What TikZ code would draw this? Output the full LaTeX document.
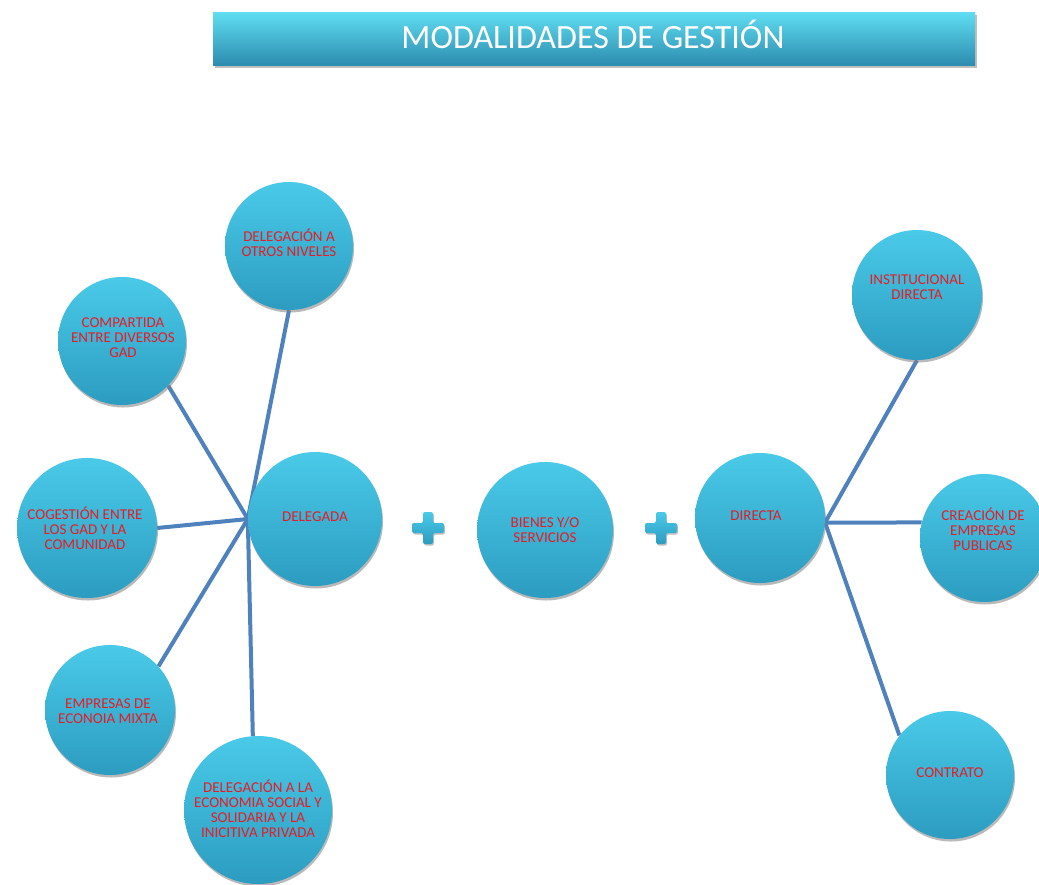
\documentclass[tikz,border=0pt]{standalone}
\usepackage{fontspec}
\setmainfont{Carlito}
\usetikzlibrary{shadows,backgrounds}
\definecolor{ballA}{RGB}{74,202,232}
\definecolor{ballB}{RGB}{58,187,220}
\definecolor{ballC}{RGB}{44,156,192}
\definecolor{barA}{RGB}{96,222,242}
\definecolor{barB}{RGB}{58,182,215}
\definecolor{barC}{RGB}{44,140,175}
\definecolor{lineblue}{RGB}{79,129,189}
\definecolor{txtred}{RGB}{232,28,36}
\tikzset{
  ball/.style={circle, inner sep=0pt, top color=ballA, middle color=ballB, bottom color=ballC,
    drop shadow={shadow xshift=1pt, shadow yshift=-2.5pt, opacity=0.55}},
  balltext/.style={text=txtred, font=\fontsize{15}{15}\selectfont, align=center, inner sep=0pt},
  link/.style={lineblue, line width=4pt},
  plusshape/.style={top color=ballA, middle color=ballB, bottom color=ballC, rounded corners=2pt,
    drop shadow={shadow xshift=1pt, shadow yshift=-1.5pt, opacity=0.5}},
}
\begin{document}
\begin{tikzpicture}[x=1pt,y=-1pt]
\useasboundingbox (0,0) rectangle (1039,884);
% title
\node[rectangle, minimum width=762pt, minimum height=53pt, inner sep=0pt,
  top color=barA, middle color=barB, bottom color=barC,
  drop shadow={shadow xshift=2pt, shadow yshift=-3pt, opacity=0.5}] (title) at (594,38.5) {};
\node[text=white, inner sep=0pt, font=\fontsize{34}{34}\selectfont] (title-t) at (593,34.5) {MODALIDADES DE GESTIÓN};

% circles
\node[ball, minimum size=128pt] (otros) at (289,246) {};
\node[ball, minimum size=128pt] (compartida) at (122,341) {};
\node[ball, minimum size=140pt] (cogestion) at (87,528) {};
\node[ball, minimum size=134pt] (delegada) at (315,519) {};
\node[ball, minimum size=130pt] (empresas) at (110,710) {};
\node[ball, minimum size=148pt] (social) at (258,810) {};
\node[ball, minimum size=136pt] (bienes) at (545,530) {};
\node[ball, minimum size=130pt] (directa) at (760,518) {};
\node[ball, minimum size=130pt] (institucional) at (917,295) {};
\node[ball, minimum size=128pt] (creacion) at (984,538) {};
\node[ball, minimum size=128pt] (contrato) at (950,775) {};

% texts
\node[balltext] (otros-t) at (289,243) {DELEGACIÓN A\\OTROS NIVELES};
\node[balltext] (compartida-t) at (123,338) {COMPARTIDA\\ENTRE DIVERSOS\\GAD};
\node[balltext] (cogestion-t) at (85,528) {COGESTIÓN ENTRE\\LOS GAD Y LA\\COMUNIDAD};
\node[balltext] (delegada-t) at (315,517) {DELEGADA};
\node[balltext] (empresas-t) at (108,711) {EMPRESAS DE\\ECONOIA MIXTA};
\node[balltext] (social-t) at (258,809) {DELEGACIÓN A LA\\ECONOMIA SOCIAL Y\\SOLIDARIA Y LA\\INICITIVA PRIVADA};
\node[balltext] (bienes-t) at (545,530) {BIENES Y/O\\SERVICIOS};
\node[balltext] (directa-t) at (756,516) {DIRECTA};
\node[balltext] (institucional-t) at (917,287) {INSTITUCIONAL\\DIRECTA};
\node[balltext] (creacion-t) at (983,529) {CREACIÓN DE\\EMPRESAS\\PUBLICAS};
\node[balltext] (contrato-t) at (950,773) {CONTRATO};

% plus signs
\path[plusshape] (423,512) -- (433,512) -- (433,523) -- (444,523) -- (444,533) -- (433,533)
  -- (433,544) -- (423,544) -- (423,533) -- (412,533) -- (412,523) -- (423,523) -- cycle;
\path[plusshape] (656,512) -- (666,512) -- (666,523) -- (677,523) -- (677,533) -- (666,533)
  -- (666,544) -- (656,544) -- (656,533) -- (645,533) -- (645,523) -- (656,523) -- cycle;

% connectors
\begin{scope}[on background layer]
\coordinate (lhub) at (delegada.west);
\coordinate (rhub) at (directa.-4);
\draw[link] (lhub) -- (otros.south);
\draw[link] (lhub) -- (compartida.-44);
\draw[link] (lhub) -- (cogestion.east);
\draw[link] (lhub) -- (empresas.42);
\draw[link] (lhub) -- (social.94);
\draw[link] (rhub) -- (institucional.south);
\draw[link] (rhub) -- (creacion.166);
\draw[link] (rhub) -- (contrato.142);
\end{scope}
\end{tikzpicture}
\end{document}
